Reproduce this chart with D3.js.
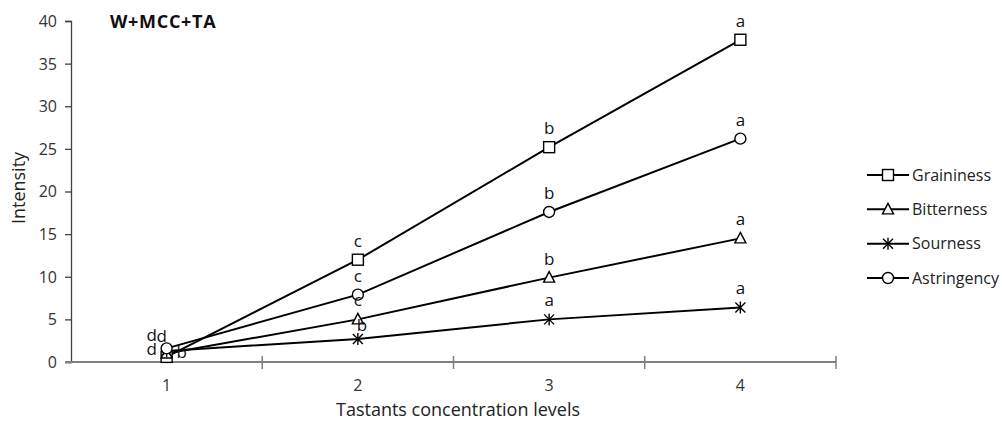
<!DOCTYPE html>
<html><head><meta charset="utf-8">
<script src="https://cdn.jsdelivr.net/npm/d3@7"></script>
<style>
html,body{margin:0;padding:0;background:#fff;}
svg{display:block;font-family:"Open Sans",sans-serif;}
</style></head>
<body><svg id="chart" width="1002" height="425"></svg>
<script>
// ---- data ----
const levels = ["1", "2", "3", "4"];
const seriesNames = ["Graininess", "Bitterness", "Sourness", "Astringency"];
const graininess  = [0.6, 12.0, 25.2, 37.8];
const bitterness  = [1.0, 5.0, 9.9, 14.5];
const sourness    = [1.3, 2.7, 5.0, 6.4];
const astringency = [1.6, 7.9, 17.6, 26.2];
const graininessLetters  = ["d", "c", "b", "a"];
const bitternessLetters  = ["d", "c", "b", "a"];
const sournessLetters    = ["b", "b", "a", "a"];
const astringencyLetters = ["d", "c", "b", "a"];
const yTicks = [0, 5, 10, 15, 20, 25, 30, 35, 40];
const chartTitle = "W+MCC+TA";
const xTitle = "Tastants concentration levels";
const yTitle = "Intensity";

// ---- layout ----
const svg = d3.select("#chart");
const x = d3.scaleBand().domain(levels).range([71, 836]);
const y = d3.scaleLinear().domain([0, 40]).range([362, 21]);
const cx = d => x(d) + x.bandwidth() / 2;

const series = [
  {name: seriesNames[0], values: graininess,  letters: graininessLetters,  marker: "square"},
  {name: seriesNames[1], values: bitterness,  letters: bitternessLetters,  marker: "triangle"},
  {name: seriesNames[2], values: sourness,    letters: sournessLetters,    marker: "star"},
  {name: seriesNames[3], values: astringency, letters: astringencyLetters, marker: "circle"}
];
// label offsets (layout only): default above the point
const labelOffsets = {
  "Graininess-0": [-15, -2],
  "Bitterness-0": [-15, -12],
  "Sourness-0": [15, 7],
  "Astringency-0": [-5, -6],
  "Sourness-1": [4, -8]
};

// y axis
const yAxis = d3.axisLeft(y).tickValues(yTicks).tickSize(6).tickPadding(8);
const gy = svg.append("g").attr("transform", "translate(71,0)").call(yAxis);
gy.select(".domain").attr("stroke", "#404040").attr("stroke-width", 1.3);
gy.selectAll(".tick line").attr("stroke", "#404040").attr("stroke-width", 1.3);
gy.selectAll(".tick text").attr("font-size", 16).attr("fill", "#333").attr("font-family", "Open Sans").attr("dy", "0.34em");

// x axis
const gx = svg.append("g").attr("transform", "translate(0,362)");
gx.append("line").attr("x1", 65).attr("x2", 836).attr("y1", 0).attr("y2", 0)
  .attr("stroke", "#7f7f7f").attr("stroke-width", 2);
const bounds = levels.map(d => x(d)).concat([x(levels[levels.length - 1]) + x.bandwidth()]);
gx.selectAll("line.tk").data(bounds.slice(1)).enter().append("line").attr("class", "tk")
  .attr("x1", d => d).attr("x2", d => d).attr("y1", -6).attr("y2", 7)
  .attr("stroke", "#7f7f7f").attr("stroke-width", 1.5);
gx.selectAll("text").data(levels).enter().append("text")
  .attr("x", d => cx(d)).attr("y", 29).attr("text-anchor", "middle")
  .attr("font-size", 16).attr("fill", "#333").text(d => d);

// titles
svg.append("text").attr("x", 110).attr("y", 28).attr("font-size", 18).attr("font-weight", "bold")
  .attr("letter-spacing", 0.7).attr("fill", "#111").text(chartTitle);
svg.append("text").attr("x", 458).attr("y", 416).attr("text-anchor", "middle")
  .attr("font-size", 18).attr("fill", "#222").text(xTitle);
svg.append("text").attr("transform", "translate(25,188) rotate(-90)").attr("text-anchor", "middle")
  .attr("font-size", 18).attr("fill", "#222").text(yTitle);

// markers
function drawMarker(g, type) {
  const st = {fill: "#fff", stroke: "#000", "stroke-width": 1.4};
  let m;
  if (type === "square") m = g.append("rect").attr("x", -5.5).attr("y", -5.5).attr("width", 11).attr("height", 11);
  else if (type === "circle") m = g.append("circle").attr("r", 5.5);
  else if (type === "triangle") m = g.append("path").attr("d", "M0,-6L5.5,4.5L-5.5,4.5Z");
  else {
    m = g.append("path").attr("d", "M-5,-5L5,5M-5,5L5,-5M0,-6V6");
  }
  Object.entries(st).forEach(([k, v]) => m.attr(k, v));
}

const line = d3.line().x((d, i) => cx(levels[i])).y(d => y(d));
const plot = svg.append("g");
series.forEach(s => {
  plot.append("path").attr("d", line(s.values)).attr("fill", "none")
    .attr("stroke", "#000").attr("stroke-width", 2);
});
series.forEach(s => {
  s.values.forEach((v, i) => {
    const g = plot.append("g").attr("transform", `translate(${cx(levels[i])},${y(v)})`);
    drawMarker(g, s.marker);
  });
});
series.forEach(s => {
  s.values.forEach((v, i) => {
    const off = labelOffsets[s.name + "-" + i] || [0, -13];
    plot.append("text").attr("x", cx(levels[i]) + off[0]).attr("y", y(v) + off[1])
      .attr("text-anchor", "middle").attr("font-size", 17).attr("fill", "#111")
      .text(s.letters[i]);
  });
});

// legend
const legendY = d3.scalePoint().domain(seriesNames).range([175, 278]);
const lg = svg.append("g");
series.forEach(s => {
  const ly = legendY(s.name);
  lg.append("line").attr("x1", 867).attr("x2", 909).attr("y1", ly).attr("y2", ly)
    .attr("stroke", "#000").attr("stroke-width", 2);
  const g = lg.append("g").attr("transform", `translate(888,${ly})`);
  drawMarker(g, s.marker);
  lg.append("text").attr("x", 912).attr("y", ly).attr("dy", "0.35em")
    .attr("font-size", 16).attr("fill", "#222").text(s.name);
});
</script></body></html>
